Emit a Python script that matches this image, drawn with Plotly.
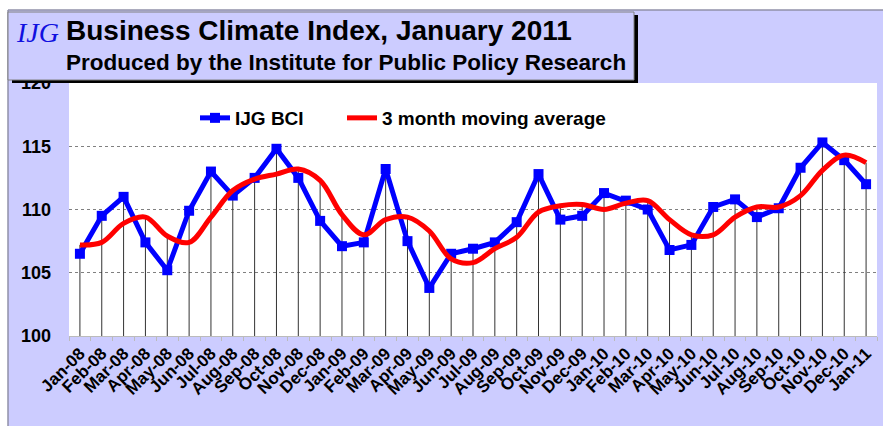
import plotly.graph_objects as go

months = ["Jan-08", "Feb-08", "Mar-08", "Apr-08", "May-08", "Jun-08", "Jul-08", "Aug-08",
          "Sep-08", "Oct-08", "Nov-08", "Dec-08", "Jan-09", "Feb-09", "Mar-09", "Apr-09",
          "May-09", "Jun-09", "Jul-09", "Aug-09", "Sep-09", "Oct-09", "Nov-09", "Dec-09",
          "Jan-10", "Feb-10", "Mar-10", "Apr-10", "May-10", "Jun-10", "Jul-10", "Aug-10",
          "Sep-10", "Oct-10", "Nov-10", "Dec-10", "Jan-11"]

bci = [106.5, 109.5, 111.0, 107.4, 105.2, 109.9, 113.0, 111.1, 112.5, 114.8, 112.5, 109.1,
       107.1, 107.4, 113.2, 107.5, 103.8, 106.5, 106.9, 107.4, 109.0, 112.8, 109.2, 109.5,
       111.3, 110.7, 110.0, 106.8, 107.2, 110.2, 110.8, 109.4, 110.1, 113.3, 115.3, 113.9,
       112.0]

moving_avg = [107.2, 107.4, 108.9, 109.4, 107.9, 107.4, 109.4, 111.5, 112.4, 112.8, 113.2, 112.3,
              109.6, 108.0, 109.2, 109.4, 108.3, 106.1, 105.8, 106.9, 107.8, 109.8, 110.3, 110.4,
              110.0, 110.5, 110.7, 109.2, 108.0, 108.0, 109.4, 110.2, 110.2, 111.1, 113.1, 114.3,
              113.7]

W, H = 883, 426
L, R, T, B = 69, 6, 83, 90
PW, PH = W - L - R, H - T - B
LAV = "#CCCCFF"
FONT = "Arial, Liberation Sans, sans-serif"


def px(x):
    return (x - L) / PW


def py(y):
    return (H - B - y) / PH


# drop lines from the highest of the two series down to the axis
drop_x, drop_y = [], []
for m, a, b in zip(months, bci, moving_avg):
    drop_x += [m, m, None]
    drop_y += [100, max(a, b), None]

fig = go.Figure()
fig.add_trace(go.Scatter(x=drop_x, y=drop_y, mode="lines", showlegend=False,
                         line=dict(color="#333333", width=1), hoverinfo="skip"))
fig.add_trace(go.Scatter(x=months, y=bci, name="<b>IJG BCI</b>", mode="lines+markers",
                         line=dict(color="#0000FF", width=5),
                         marker=dict(symbol="square", size=10, color="#0000FF"),
                         legend="legend"))
fig.add_trace(go.Scatter(x=months, y=moving_avg, name="<b>3 month moving average</b>",
                         mode="lines",
                         line=dict(color="#FF0000", width=5, shape="spline", smoothing=1),
                         legend="legend2"))

shapes = [
    # white margin outside the chart frame
    dict(type="rect", xref="paper", yref="paper", x0=px(0), x1=px(W), y0=py(10), y1=py(0),
         fillcolor="white", line_width=0, layer="below"),
    dict(type="rect", xref="paper", yref="paper", x0=px(0), x1=px(8), y0=py(H), y1=py(0),
         fillcolor="white", line_width=0, layer="below"),
    dict(type="line", xref="paper", yref="paper", x0=px(8), x1=px(W), y0=py(10), y1=py(10),
         line=dict(color="#9090A8", width=1.5)),
    dict(type="line", xref="paper", yref="paper", x0=px(8), x1=px(8), y0=py(10), y1=py(H),
         line=dict(color="#9090A8", width=1.5)),
    # title box with shadow
    dict(type="rect", xref="paper", yref="paper", x0=px(12), x1=px(638), y0=py(83), y1=py(15),
         fillcolor="black", line_width=0),
    dict(type="rect", xref="paper", yref="paper", x0=px(8), x1=px(634), y0=py(80), y1=py(12),
         fillcolor=LAV, line=dict(color="#808080", width=1)),
]

annotations = [
    dict(text="<i>IJG</i>", x=px(14), y=py(32), xref="paper", yref="paper", xanchor="left",
         yanchor="middle", showarrow=False,
         font=dict(family="Times New Roman, Liberation Serif, serif", size=28, color="#1010E0")),
    dict(text="<b>Business Climate Index, January 2011</b>", x=px(64), y=py(30), xref="paper",
         yref="paper", xanchor="left", yanchor="middle", showarrow=False,
         font=dict(family=FONT, size=28, color="black")),
    dict(text="<b>Produced by the Institute for Public Policy Research</b>", x=px(64), y=py(62),
         xref="paper", yref="paper", xanchor="left", yanchor="middle", showarrow=False,
         font=dict(family=FONT, size=22.5, color="black")),
]

legend_style = dict(orientation="h", yanchor="middle", xanchor="left", y=py(118),
                    bgcolor="rgba(0,0,0,0)", font=dict(family=FONT, size=19, color="black"))

fig.update_layout(
    width=W, height=H,
    margin=dict(l=L, r=R, t=T, b=B, pad=0),
    paper_bgcolor=LAV,
    plot_bgcolor="white",
    font=dict(family=FONT, color="black"),
    shapes=shapes,
    annotations=annotations,
    legend=dict(x=px(195), **legend_style),
    legend2=dict(x=px(342), **legend_style),
    xaxis=dict(type="category", range=[-0.5, len(months) - 0.5], tickangle=-45,
               tickson="boundaries", ticks="outside", ticklen=4, tickcolor="#BBBBBB",
               showline=True, linecolor="#BBBBBB", showgrid=False,
               tickfont=dict(family=FONT, size=17, color="black"),
               tickvals=months, ticktext=["<b>%s</b>" % m for m in months]),
    yaxis=dict(range=[100, 120], dtick=5, showgrid=True, gridcolor="#808080", griddash="dot",
               gridwidth=1, zeroline=False, showline=False, ticks="",
               ticklabelstandoff=17,
               tickvals=[100, 105, 110, 115, 120],
               ticktext=["<b>%d</b>" % v for v in [100, 105, 110, 115, 120]],
               tickfont=dict(family=FONT, size=18, color="black")),
)

fig.write_html("out.html", config={"displayModeBar": False},
               post_script="document.body.style.margin='0';")
